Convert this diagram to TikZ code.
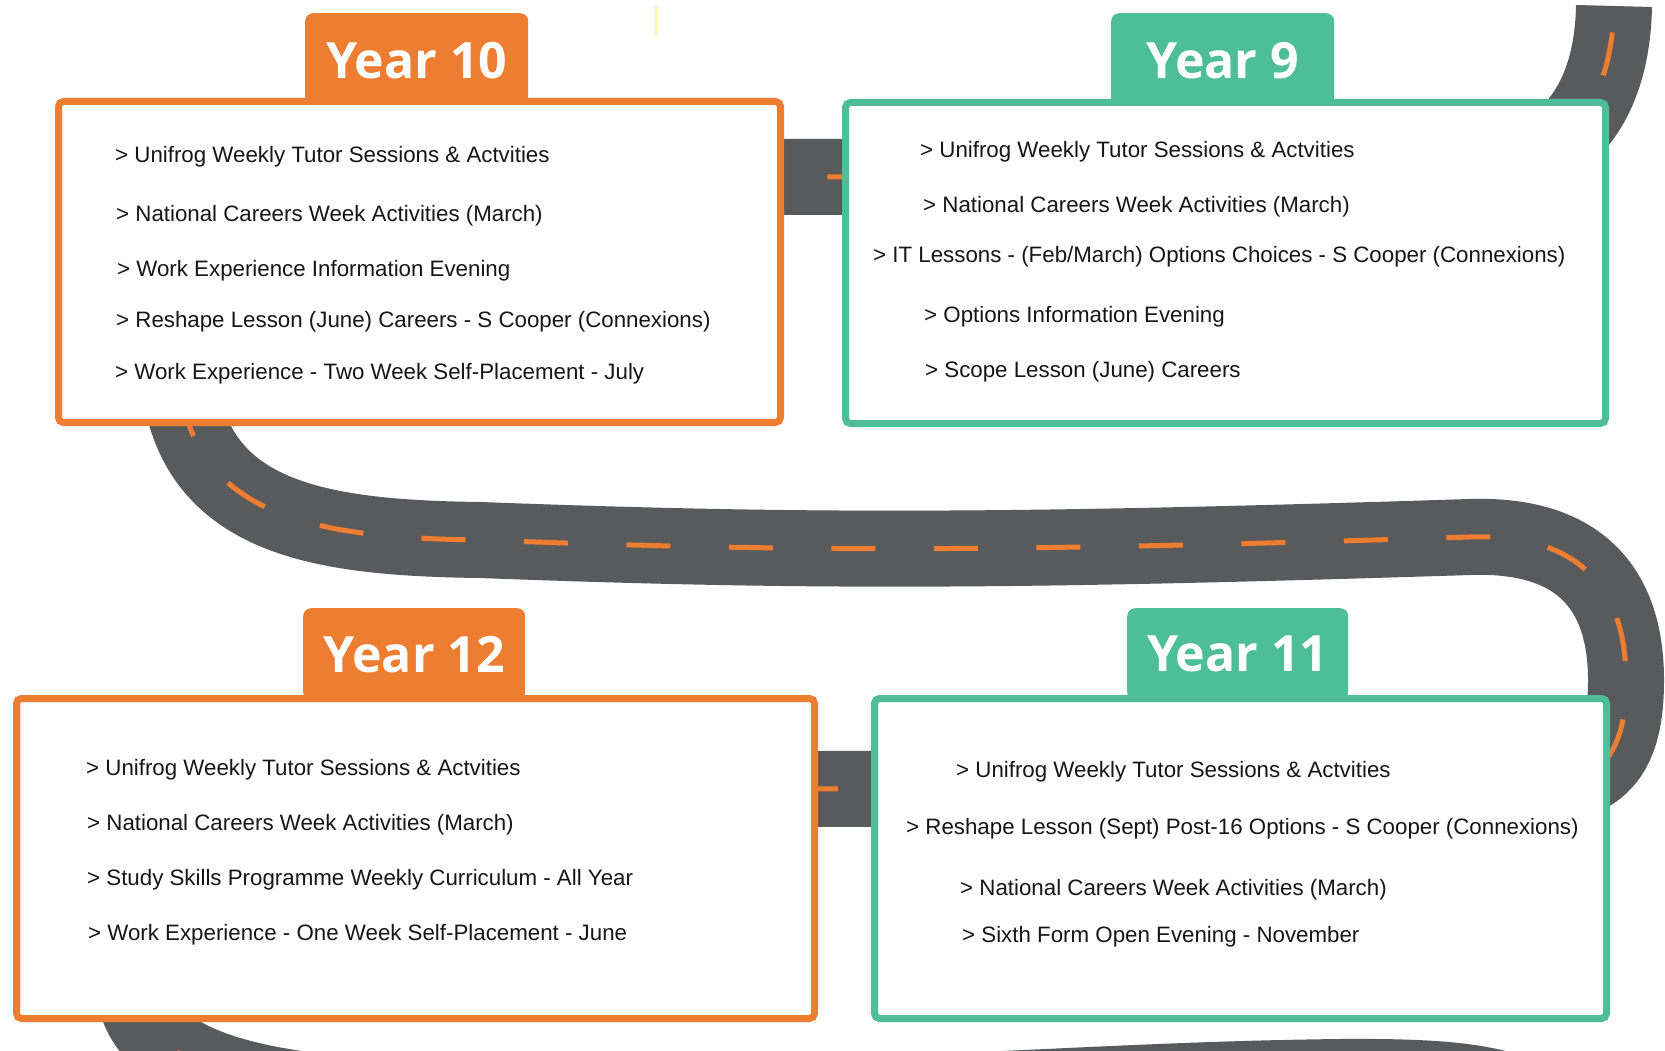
\documentclass[tikz,border=0pt]{standalone}
\usepackage{fontspec}
\setmainfont{Liberation Sans}
\newfontfamily\tabfam{Open Sans}
\definecolor{orangeC}{RGB}{237,125,49}
\definecolor{tealC}{RGB}{78,190,153}
\definecolor{roadC}{RGB}{89,90,92}
\definecolor{textC}{RGB}{22,22,22}
\definecolor{yellowC}{RGB}{255,244,160}
\tikzset{
  yearbox/.style={draw=#1, line width=7pt, fill=white, rounded corners=5pt,
    anchor=north west, inner sep=0pt},
  yeartab/.style={fill=#1, rounded corners=8pt, anchor=north west, inner sep=0pt,
    text=white, font=\tabfam\bfseries\fontsize{50}{60}\selectfont},
  item/.style={anchor=west, inner sep=0pt, text=textC,
    font=\fontsize{22.3}{26}\selectfont, text height=0.72em, text depth=0pt},
  road/.style={draw=roadC, line width=76pt,
    postaction={draw=orangeC, line width=5pt, dash pattern=on 44pt off 58.5pt, dash phase=76pt}}
}
\begin{document}
\begin{tikzpicture}[x=1pt,y=-1pt]
\useasboundingbox (0,0) rectangle (1665,1051);
\clip (0,0) rectangle (1665,1051);
% road
\draw[road] (1614,6) .. controls (1612,110) and (1560,177) .. (1440,177)
  -- (420,177) .. controls (215,177) and (182,300) .. (182,400)
  .. controls (207,520) and (325,538) .. (480,540)
  .. controls (800,552) and (1000,552) .. (1470,537)
  .. controls (1590,533) and (1626,600) .. (1626,680)
  .. controls (1626,770) and (1590,790) .. (1500,790)
  -- (300,788) .. controls (150,788) and (116,900) .. (136,1000)
  .. controls (156,1080) and (300,1100) .. (500,1100)
  .. controls (900,1102) and (1080,1080) .. (1340,1077)
  .. controls (1480,1076) and (1530,1085) .. (1590,1140)
  -- (1650,1260);
% faint mark
\draw[yellowC, line width=2.5pt] (656,6) -- (656,35);
% tabs
\node[yeartab=orangeC, minimum width=223pt, minimum height=94pt] (tab10) at (305,13) {Year 10};
\node[yeartab=tealC, minimum width=223pt, minimum height=94pt] (tab9) at (1111,13) {Year 9};
\node[yeartab=orangeC, minimum width=222pt, minimum height=92pt] (tab12) at (303,608) {Year 12};
\node[yeartab=tealC, minimum width=221pt, minimum height=92pt] (tab11) at (1127,608) {Year 11};
% boxes
\node[yearbox=orangeC, minimum width=722pt, minimum height=321pt] (box10) at (55,98) {};
\node[yearbox=tealC, minimum width=760pt, minimum height=321pt] (box9) at (842,99) {};
\node[yearbox=orangeC, minimum width=798pt, minimum height=320pt] (box12) at (13,695) {};
\node[yearbox=tealC, minimum width=732pt, minimum height=320pt] (box11) at (871,695) {};
% Year 10 items
\node[item] (y10a) at (115,159) {> Unifrog Weekly Tutor Sessions \& Actvities};
\node[item] (y10b) at (116,218) {> National Careers Week Activities (March)};
\node[item] (y10c) at (117,273) {> Work Experience Information Evening};
\node[item] (y10d) at (116,324) {> Reshape Lesson (June) Careers - S Cooper (Connexions)};
\node[item] (y10e) at (115,376) {> Work Experience - Two Week Self-Placement - July};
% Year 9 items
\node[item] (y9a) at (920,154) {> Unifrog Weekly Tutor Sessions \& Actvities};
\node[item] (y9b) at (923,209) {> National Careers Week Activities (March)};
\node[item] (y9c) at (873,259) {> IT Lessons - (Feb/March) Options Choices - S Cooper (Connexions)};
\node[item] (y9d) at (924,319) {> Options Information Evening};
\node[item] (y9e) at (925,374) {> Scope Lesson (June) Careers};
% Year 12 items
\node[item] (y12a) at (86,772) {> Unifrog Weekly Tutor Sessions \& Actvities};
\node[item] (y12b) at (87,827) {> National Careers Week Activities (March)};
\node[item] (y12c) at (87,882) {> Study Skills Programme Weekly Curriculum - All Year};
\node[item] (y12d) at (88,937) {> Work Experience - One Week Self-Placement - June};
% Year 11 items
\node[item] (y11a) at (956,774) {> Unifrog Weekly Tutor Sessions \& Actvities};
\node[item] (y11b) at (906,831) {> Reshape Lesson (Sept) Post-16 Options - S Cooper (Connexions)};
\node[item] (y11c) at (960,892) {> National Careers Week Activities (March)};
\node[item] (y11d) at (962,939) {> Sixth Form Open Evening - November};
\end{tikzpicture}
\end{document}
